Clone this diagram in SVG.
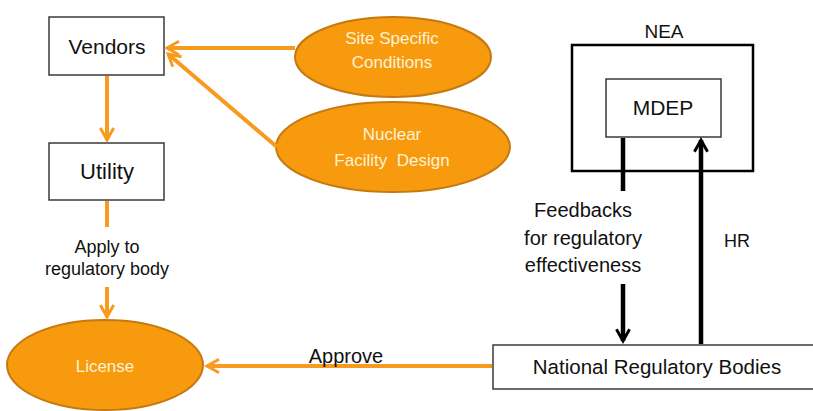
<svg xmlns="http://www.w3.org/2000/svg" width="813" height="411" viewBox="0 0 813 411">
<style>
.box{fill:#fff;stroke:#3a3a3a;stroke-width:1.5}
.nea{fill:#fff;stroke:#000;stroke-width:2.5}
.ell{fill:#F79A0E;stroke:#C57A10;stroke-width:2}
.t{font-family:"Liberation Sans",Arial,sans-serif;fill:#111;text-anchor:middle}
.w{font-family:"Liberation Sans",Arial,sans-serif;fill:#FFF2D6;text-anchor:middle;font-size:17px}
.o{stroke:#F79A1E;stroke-width:4;fill:none}
.k{stroke:#000;stroke-width:4.5;fill:none}
</style>
<defs>
<marker id="ao" viewBox="0 0 12 12" refX="10" refY="6" markerWidth="4" markerHeight="4" markerUnits="strokeWidth" orient="auto">
<path d="M1,1 L10,6 L1,11" fill="none" stroke="#F79A1E" stroke-width="2.2"/>
</marker>
<marker id="ak" viewBox="0 0 12 12" refX="10" refY="6" markerWidth="3.5" markerHeight="3.5" markerUnits="strokeWidth" orient="auto">
<path d="M1,1 L10,6 L1,11" fill="none" stroke="#000" stroke-width="2.2"/>
</marker>
</defs>
<rect width="813" height="411" fill="#fff"/>
<g id="vendors">
<rect class="box" x="49" y="17" width="115" height="58"/>
<text class="t" x="107" y="54" font-size="21">Vendors</text>
</g>
<g id="utility">
<rect class="box" x="49" y="143" width="115" height="57"/>
<text class="t" x="107" y="179" font-size="22">Utility</text>
</g>
<g id="site">
<ellipse class="ell" cx="393" cy="57" rx="98" ry="40"/>
<text class="w" x="392" y="44">Site Specific</text>
<text class="w" x="392" y="68">Conditions</text>
</g>
<g id="nuclear">
<ellipse class="ell" cx="393" cy="147" rx="117" ry="45"/>
<text class="w" x="392" y="140">Nuclear</text>
<text class="w" x="392" y="166" xml:space="preserve">Facility  Design</text>
</g>
<g id="license">
<ellipse class="ell" cx="105" cy="365" rx="98" ry="45"/>
<text class="w" x="105" y="372">License</text>
</g>
<g id="nea">
<rect class="nea" x="572" y="45" width="181" height="126"/>
<text class="t" x="664" y="38" font-size="19">NEA</text>
</g>
<g id="mdep">
<rect class="box" x="606" y="79" width="115" height="58"/>
<text class="t" x="663" y="115" font-size="21">MDEP</text>
</g>
<g id="nrb">
<rect class="box" x="493" y="345" width="330" height="44"/>
<text class="t" x="657" y="374" font-size="20.5">National Regulatory Bodies</text>
</g>
<g id="connectors">
<line class="o" x1="107" y1="76" x2="107" y2="140" marker-end="url(#ao)"/>
<line class="o" x1="295" y1="48" x2="167" y2="48" marker-end="url(#ao)"/>
<line class="o" x1="277" y1="147" x2="168" y2="54" marker-end="url(#ao)"/>
<line class="o" x1="107" y1="201" x2="107" y2="227"/>
<line class="o" x1="107" y1="287" x2="107" y2="317" marker-end="url(#ao)"/>
<text class="t" x="107" y="253" font-size="18">Apply to</text>
<text class="t" x="107" y="275" font-size="18">regulatory body</text>
<line class="o" x1="492" y1="366" x2="207" y2="366" marker-end="url(#ao)"/>
<text class="t" x="346" y="363" font-size="20">Approve</text>
<line class="k" x1="623" y1="138" x2="623" y2="191"/>
<line class="k" x1="623" y1="284" x2="623" y2="341" marker-end="url(#ak)"/>
<text class="t" x="583" y="217" font-size="20">Feedbacks</text>
<text class="t" x="583" y="245" font-size="20">for regulatory</text>
<text class="t" x="583" y="272" font-size="20">effectiveness</text>
<line class="k" x1="701" y1="344" x2="701" y2="140" marker-end="url(#ak)"/>
<text class="t" x="737" y="247" font-size="18">HR</text>
</g>
</svg>
